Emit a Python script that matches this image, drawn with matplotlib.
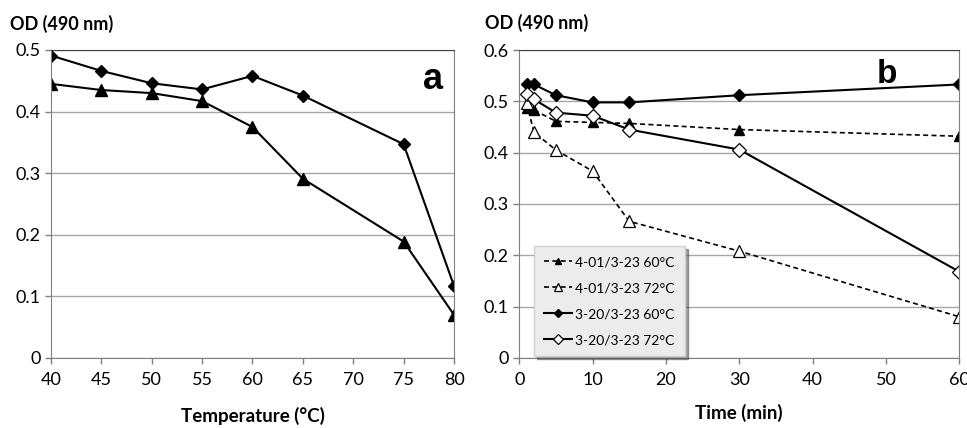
import matplotlib
matplotlib.use("Agg")
import matplotlib.pyplot as plt

plt.rcParams['font.family'] = ['Lato', 'DejaVu Sans']

# panel a: OD vs temperature
temp = [40, 45, 50, 55, 60, 65, 75, 80]
od_diamond_a = [0.491, 0.466, 0.446, 0.436, 0.458, 0.426, 0.347, 0.117]
od_triangle_a = [0.445, 0.435, 0.430, 0.417, 0.375, 0.291, 0.189, 0.070]

# panel b: OD vs time
time_min = [1, 2, 5, 10, 15, 30, 60]
s401_60 = [0.488, 0.483, 0.461, 0.459, 0.457, 0.445, 0.432]
s401_72 = [0.497, 0.440, 0.405, 0.364, 0.266, 0.208, 0.080]
s320_60 = [0.533, 0.533, 0.512, 0.498, 0.498, 0.512, 0.533]
s320_72 = [0.514, 0.504, 0.478, 0.472, 0.445, 0.406, 0.168]
labels_b = ['4-01/3-23 60°C', '4-01/3-23 72°C', '3-20/3-23 60°C', '3-20/3-23 72°C']

fig = plt.figure(figsize=(9.67, 4.28), dpi=100)
ax1 = fig.add_axes([0.0527, 0.1636, 0.4168, 0.7196])
ax2 = fig.add_axes([0.537, 0.164, 0.455, 0.719])


def style_axes(ax):
    ax.yaxis.grid(True, color='#a6a6a6', lw=1)
    ax.set_axisbelow(True)
    for side in ['left', 'bottom', 'right']:
        ax.spines[side].set_color('#808080')
    ax.spines['top'].set_color('#404040')
    ax.tick_params(axis='both', labelsize=13, color='#808080', length=4, width=1)
    ax.tick_params(axis='x', pad=6)


# panel a
ax1.plot(temp, od_diamond_a, color='black', lw=1.5, marker='D', ms=6, mfc='black', mec='black')
ax1.plot(temp, od_triangle_a, color='black', lw=1.5, marker='^', ms=8, mfc='black', mec='black')
ax1.set_xlim(40, 80)
ax1.set_ylim(0, 0.5)
ax1.set_xticks(range(40, 81, 5))
ax1.set_yticks([0, 0.1, 0.2, 0.3, 0.4, 0.5])
ax1.set_yticklabels(['0', '0.1', '0.2', '0.3', '0.4', '0.5'])
style_axes(ax1)
ax1.text(0.948, 0.905, 'a', transform=ax1.transAxes, fontsize=26, fontweight='bold',
         ha='center', va='center', family='Liberation Sans')
ax1.set_xlabel('Temperature (°C)', fontsize=13.5, fontweight='bold', labelpad=14)

# panel b
ax2.plot(time_min, s401_60, color='black', lw=1.2, ls=(0, (3, 2)), marker='^', ms=7,
         mfc='black', mec='black', label=labels_b[0])
ax2.plot(time_min, s401_72, color='black', lw=1.2, ls=(0, (3, 2)), marker='^', ms=8,
         mfc='white', mec='black', mew=0.9, label=labels_b[1])
ax2.plot(time_min, s320_60, color='black', lw=1.5, marker='D', ms=6,
         mfc='black', mec='black', label=labels_b[2])
ax2.plot(time_min, s320_72, color='black', lw=1.5, marker='D', ms=7,
         mfc='white', mec='black', mew=0.9, label=labels_b[3])
ax2.set_xlim(0, 60)
ax2.set_ylim(0, 0.6)
ax2.set_xticks(range(0, 61, 10))
ax2.set_yticks([0, 0.1, 0.2, 0.3, 0.4, 0.5, 0.6])
ax2.set_yticklabels(['0', '0.1', '0.2', '0.3', '0.4', '0.5', '0.6'])
style_axes(ax2)
ax2.text(0.836, 0.92, 'b', transform=ax2.transAxes, fontsize=24, fontweight='bold',
         ha='center', va='center', family='Liberation Sans')
ax2.set_xlabel('Time (min)', fontsize=13.5, fontweight='bold', labelpad=12)
leg = ax2.legend(loc='lower left', bbox_to_anchor=(0.03, 0.0), fontsize=10,
                 frameon=True, fancybox=False, shadow=True, handlelength=2.0,
                 markerscale=0.7, labelspacing=1.0, borderpad=0.75, handletextpad=0.2,
                 borderaxespad=0.1)
leg.get_frame().set_facecolor('#ececec')
leg.get_frame().set_edgecolor('#d0d0d0')

fig.text(0.010, 0.944, 'OD (490 nm)', fontsize=13, fontweight='bold', ha='left', va='center')
fig.text(0.502, 0.946, 'OD (490 nm)', fontsize=13, fontweight='bold', ha='left', va='center')

fig.savefig('out.png', dpi=100)
